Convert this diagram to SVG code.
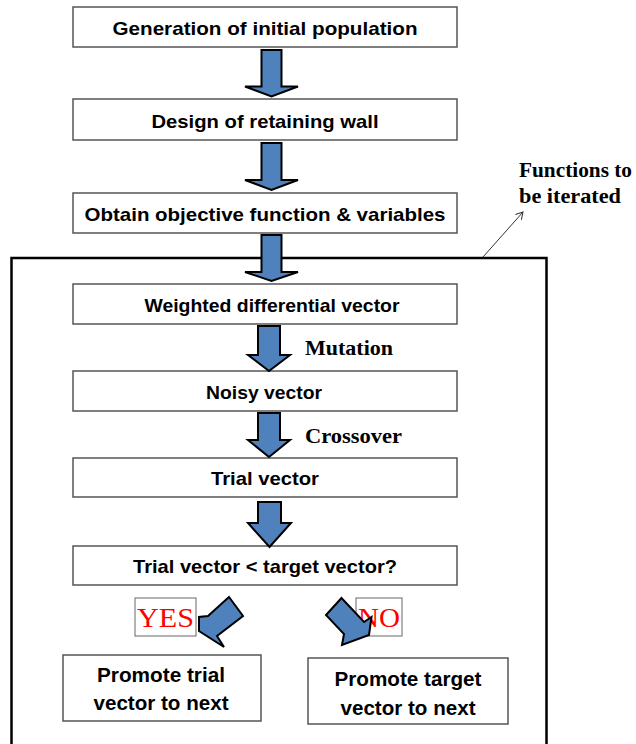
<svg xmlns="http://www.w3.org/2000/svg" width="636" height="744" viewBox="0 0 636 744">
<style>
.box{fill:#fff;stroke:#555;stroke-width:1.5}
.t{font-family:"Liberation Sans",Arial,sans-serif;font-weight:bold;font-size:19px;fill:#000;text-anchor:middle}
.tp{font-family:"Liberation Sans",Arial,sans-serif;font-weight:bold;font-size:20px;fill:#000;text-anchor:middle}
.tm{font-family:"Liberation Serif","Times New Roman",serif;font-weight:bold;font-size:21px;fill:#000}
.arr{fill:#4F81BD;stroke:#000;stroke-width:2;stroke-linejoin:miter}
.lbl{fill:#fff;stroke:#666;stroke-width:1}
.red{font-family:"Liberation Serif","Times New Roman",serif;font-size:28px;fill:#ff0000}
</style>
<defs>
<marker id="ah" markerWidth="8" markerHeight="8" refX="7" refY="4" orient="auto" markerUnits="userSpaceOnUse">
<path d="M0,0 L7,4 L0,8" fill="none" stroke="#333" stroke-width="1"/>
</marker>
</defs>
<rect id="iterate-frame" x="11.5" y="258" width="535" height="520" fill="none" stroke="#000" stroke-width="2.5"/>
<g id="iterate-label">
<text class="tm" x="519" y="177" textLength="113" lengthAdjust="spacingAndGlyphs">Functions to</text>
<text class="tm" x="519" y="203" textLength="102" lengthAdjust="spacingAndGlyphs">be iterated</text>
</g>
<g id="n1"><rect class="box" x="73" y="7" width="384" height="40"/><text class="t" x="265" y="34.5" textLength="305" lengthAdjust="spacingAndGlyphs">Generation of initial population</text></g>
<g id="n2"><rect class="box" x="73" y="99" width="384" height="41"/><text class="t" x="265" y="127.5" textLength="227" lengthAdjust="spacingAndGlyphs">Design of retaining wall</text></g>
<g id="n3"><rect class="box" x="73" y="193" width="384" height="40"/><text class="t" x="265" y="220.5" textLength="361" lengthAdjust="spacingAndGlyphs">Obtain objective function &amp; variables</text></g>
<g id="n4"><rect class="box" x="73" y="284" width="384" height="40"/><text class="t" x="272" y="311.5" textLength="255" lengthAdjust="spacingAndGlyphs">Weighted differential vector</text></g>
<g id="n5"><rect class="box" x="73" y="371" width="384" height="40"/><text class="t" x="264" y="398.5" textLength="116" lengthAdjust="spacingAndGlyphs">Noisy vector</text></g>
<g id="n6"><rect class="box" x="73" y="458" width="384" height="39"/><text class="t" x="265" y="484.5" textLength="108" lengthAdjust="spacingAndGlyphs">Trial vector</text></g>
<g id="n7"><rect class="box" x="73" y="546" width="384" height="39"/><text class="t" x="265" y="572.5" textLength="264" lengthAdjust="spacingAndGlyphs">Trial vector &lt; target vector?</text></g>
<g id="n8"><rect class="box" x="63" y="655" width="198" height="66"/>
<text class="tp" x="161" y="682" textLength="128" lengthAdjust="spacingAndGlyphs">Promote trial</text>
<text class="tp" x="161" y="710" textLength="135" lengthAdjust="spacingAndGlyphs">vector to next</text></g>
<g id="n9"><rect class="box" x="308" y="658" width="200" height="66"/>
<text class="tp" x="408" y="686" textLength="147" lengthAdjust="spacingAndGlyphs">Promote target</text>
<text class="tp" x="408" y="715" textLength="135" lengthAdjust="spacingAndGlyphs">vector to next</text></g>
<g id="yes-label"><rect class="lbl" x="135" y="598" width="61" height="38"/><text class="red" x="137" y="627" textLength="57" lengthAdjust="spacingAndGlyphs">YES</text></g>
<g id="no-label"><rect class="lbl" x="356" y="598" width="46" height="38"/><text class="red" x="358" y="627" textLength="42" lengthAdjust="spacingAndGlyphs">NO</text></g>
<g id="connectors">
<polygon class="arr" points="261.5,50 281.5,50 281.5,86.5 298,86.5 271.5,96.5 245,86.5 261.5,86.5"/>
<polygon class="arr" points="261.5,143 281.5,143 281.5,180 298,180 271.5,190 245,180 261.5,180"/>
<polygon class="arr" points="261.5,235 281.5,235 281.5,272 298,272 271.5,281 245,272 261.5,272"/>
<polygon class="arr" points="258,326 280,326 280,355 290,355 269,371 248,355 258,355"/>
<polygon class="arr" points="258,413 280,413 280,440 290,440 269,457 248,440 258,440"/>
<polygon class="arr" points="258,502 281,502 281,523 291,523 269.5,547 248,523 258,523"/>
<polygon class="arr" points="229,597 243,616 217,636 224,647 199,631 199,617 208,616"/>
<polygon class="arr" points="341.5,598 326,615 344,634 342,645 369,635 371.5,617 364,622"/>
<line x1="483" y1="257" x2="523" y2="212" stroke="#333" stroke-width="1" marker-end="url(#ah)"/>
<text class="tm" x="305" y="355" textLength="88" lengthAdjust="spacingAndGlyphs">Mutation</text>
<text class="tm" x="305" y="443" textLength="97" lengthAdjust="spacingAndGlyphs">Crossover</text>
</g>
</svg>
